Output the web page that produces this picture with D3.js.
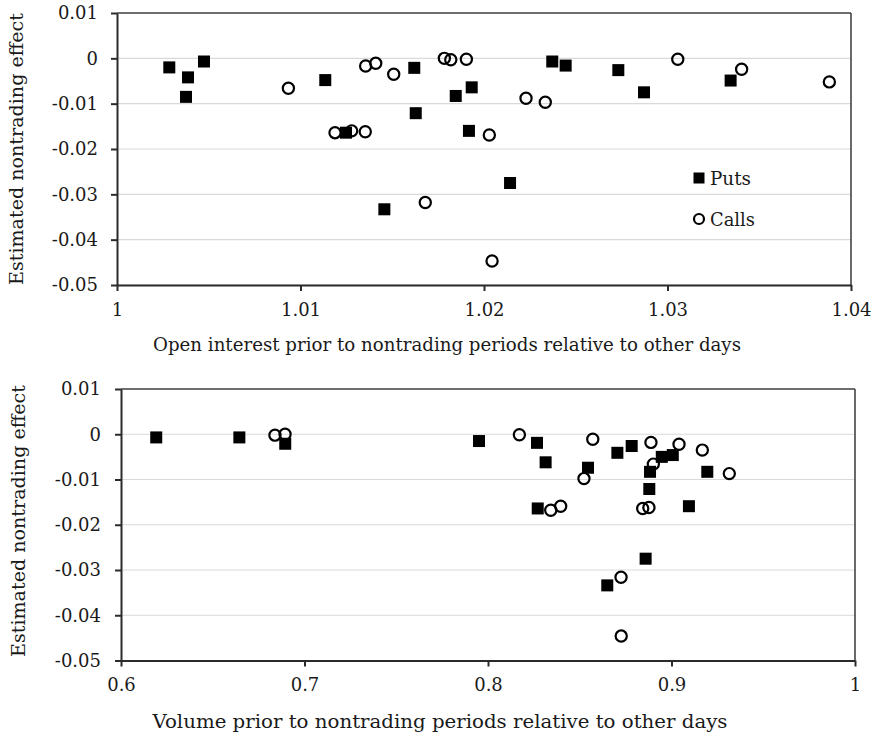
<!DOCTYPE html>
<html>
<head>
<meta charset="utf-8">
<script src="https://cdn.jsdelivr.net/npm/d3@7"></script>
<style>
body { margin: 0; background: #fff; }
svg { display: block; font-family: "DejaVu Serif", "Liberation Serif", serif; }
</style>
</head>
<body>
<div id="chart"></div>
<script>
// ticks
const y_ticks = [0.01, 0, -0.01, -0.02, -0.03, -0.04, -0.05]
const oi_ticks = [1, 1.01, 1.02, 1.03, 1.04]
const vol_ticks = [0.6, 0.7, 0.8, 0.9, 1]

// top panel: open interest ratio vs nontrading effect
const oi_puts_x = [1.00285, 1.00387, 1.00474, 1.00376, 1.01135, 1.01248, 1.0162, 1.01628, 1.01846,
    1.01933, 1.01918, 1.01457, 1.02142, 1.02372, 1.02445, 1.02732, 1.02872, 1.03344]
const oi_puts_y = [-0.0020, -0.0042, -0.0007, -0.0085, -0.0048, -0.0164, -0.0021, -0.0121, -0.0083,
    -0.0064, -0.0160, -0.0333, -0.0275, -0.0007, -0.0016, -0.0026, -0.0075, -0.0049]
const oi_calls_x = [1.00934, 1.01188, 1.01279, 1.01353, 1.01355, 1.0141, 1.01508, 1.01784, 1.01819,
    1.01904, 1.02029, 1.0168, 1.02044, 1.02229, 1.02334, 1.03056, 1.03404, 1.03882]
const oi_calls_y = [-0.0066, -0.0164, -0.0160, -0.0162, -0.0017, -0.0011, -0.0035, 0.0000, -0.0003,
    -0.0002, -0.0169, -0.0318, -0.0447, -0.0088, -0.0097, -0.0002, -0.0024, -0.0052]

// bottom panel: volume ratio vs nontrading effect
const vol_puts_x = [0.6192, 0.6645, 0.6895, 0.7951, 0.8267, 0.8314, 0.8545, 0.8705, 0.8783,
    0.8947, 0.9007, 0.8883, 0.8879, 0.9195, 0.8271, 0.9095, 0.8859, 0.8650]
const vol_puts_y = [-0.0007, -0.0007, -0.0021, -0.0015, -0.0019, -0.0062, -0.0074, -0.0041, -0.0026,
    -0.0050, -0.0046, -0.0083, -0.0121, -0.0083, -0.0164, -0.0159, -0.0275, -0.0334]
const vol_calls_x = [0.6839, 0.6894, 0.8171, 0.8571, 0.8888, 0.9041, 0.9168, 0.8901, 0.9315,
    0.8523, 0.8342, 0.8396, 0.8843, 0.8877, 0.8725, 0.8726]
const vol_calls_y = [-0.0002, 0.0000, -0.0001, -0.0011, -0.0018, -0.0022, -0.0035, -0.0066, -0.0087,
    -0.0098, -0.0168, -0.0159, -0.0164, -0.0162, -0.0316, -0.0446]

const y_title = 'Estimated nontrading effect'

const width = 873, height = 737
const svg = d3.select('#chart').append('svg')
    .attr('width', width)
    .attr('height', height)

const axis_color = '#2b2b2b'
const grid_color = '#d9d9d9'
const text_color = '#1a1a1a'
const font_size = 18
const sq = 12, r = 5.6

function zip(xs, ys) {
    return xs.map((x, i) => ({ x: x, y: ys[i] }))
}

function draw_panel(p) {
    let xScale = d3.scaleLinear().domain(p.xdomain).range([p.left, p.right])
    let yScale = d3.scaleLinear().domain([-0.05, 0.01]).range([p.bottom, p.top])

    let g = svg.append('g')

    // gridlines
    g.selectAll('.grid')
        .data(y_ticks)
        .enter().append('line')
        .attr('x1', p.left).attr('x2', p.right)
        .attr('y1', d => yScale(d)).attr('y2', d => yScale(d))
        .attr('stroke', grid_color)
        .attr('stroke-width', 1.2)

    // top and right borders
    g.append('line')
        .attr('x1', p.left).attr('x2', p.right)
        .attr('y1', p.top).attr('y2', p.top)
        .attr('stroke', '#444').attr('stroke-width', 1.6)
    g.append('line')
        .attr('x1', p.right).attr('x2', p.right)
        .attr('y1', p.top).attr('y2', p.bottom)
        .attr('stroke', '#444').attr('stroke-width', 1.6)

    // y axis
    let yAxis = g.append('g')
        .attr('transform', 'translate(' + p.left + ',0)')
        .call(d3.axisLeft(yScale).tickValues(y_ticks).tickSize(6).tickPadding(p.ypad)
            .tickSizeOuter(0).tickFormat(d => String(d)))

    // x axis
    let xAxis = g.append('g')
        .attr('transform', 'translate(0,' + p.bottom + ')')
        .call(d3.axisBottom(xScale).tickValues(p.xticks).tickSize(6).tickPadding(p.xpad)
            .tickSizeOuter(0).tickFormat(d => String(d)))

    for (let ax of [yAxis, xAxis]) {
        ax.selectAll('path, line').attr('stroke', axis_color).attr('stroke-width', 2)
        ax.selectAll('text')
            .attr('fill', text_color)
            .attr('font-size', font_size)
            .attr('font-family', '"DejaVu Serif", serif')
    }

    // puts
    g.selectAll('.put')
        .data(zip(p.puts_x, p.puts_y))
        .enter().append('rect')
        .attr('x', d => xScale(d.x) - sq / 2)
        .attr('y', d => yScale(d.y) - sq / 2)
        .attr('width', sq).attr('height', sq)
        .attr('fill', '#000')

    // calls
    g.selectAll('.call')
        .data(zip(p.calls_x, p.calls_y))
        .enter().append('circle')
        .attr('cx', d => xScale(d.x))
        .attr('cy', d => yScale(d.y))
        .attr('r', r)
        .attr('fill', 'none')
        .attr('stroke', '#000')
        .attr('stroke-width', 2.2)

    // axis titles
    g.append('text')
        .attr('x', p.xtitle_x).attr('y', p.xtitle_y)
        .attr('text-anchor', 'middle')
        .attr('font-size', font_size)
        .attr('fill', text_color)
        .attr('textLength', p.xtitle_len)
        .attr('lengthAdjust', 'spacingAndGlyphs')
        .text(p.xtitle)
    g.append('text')
        .attr('transform', 'translate(' + p.ytitle_x + ',' + p.ytitle_y + ') rotate(-90)')
        .attr('text-anchor', 'middle')
        .attr('font-size', font_size)
        .attr('fill', text_color)
        .attr('textLength', 272)
        .attr('lengthAdjust', 'spacingAndGlyphs')
        .text(y_title)

    return { x: xScale, y: yScale }
}

draw_panel({
    left: 117, right: 851, top: 13, bottom: 285,
    xdomain: [1, 1.04], xticks: oi_ticks, xpad: 12, ypad: 13,
    puts_x: oi_puts_x, puts_y: oi_puts_y,
    calls_x: oi_calls_x, calls_y: oi_calls_y,
    xtitle: 'Open interest prior to nontrading periods relative to other days',
    xtitle_x: 447, xtitle_y: 351, xtitle_len: 588,
    ytitle_x: 23, ytitle_y: 149
})

draw_panel({
    left: 121, right: 855, top: 389, bottom: 660.5,
    xdomain: [0.6, 1], xticks: vol_ticks, xpad: 12, ypad: 14,
    puts_x: vol_puts_x, puts_y: vol_puts_y,
    calls_x: vol_calls_x, calls_y: vol_calls_y,
    xtitle: 'Volume prior to nontrading periods relative to other days',
    xtitle_x: 440, xtitle_y: 728, xtitle_len: 575,
    ytitle_x: 25, ytitle_y: 521
})

// legend (top panel only)
const legend = svg.append('g')
const legend_items = [
    { label: 'Puts', y: 178, type: 'square', len: 41 },
    { label: 'Calls', y: 219, type: 'circle', len: 45 }
]
for (let item of legend_items) {
    if (item.type == 'square') {
        legend.append('rect')
            .attr('x', 699 - 5.5).attr('y', item.y - 5.5)
            .attr('width', 11).attr('height', 11)
            .attr('fill', '#000')
    } else {
        legend.append('circle')
            .attr('cx', 699).attr('cy', item.y)
            .attr('r', 5)
            .attr('fill', 'none')
            .attr('stroke', '#000')
            .attr('stroke-width', 2.2)
    }
    legend.append('text')
        .attr('x', 710).attr('y', item.y + 7)
        .attr('font-size', font_size)
        .attr('fill', text_color)
        .attr('textLength', item.len)
        .attr('lengthAdjust', 'spacingAndGlyphs')
        .text(item.label)
}
</script>
</body>
</html>
